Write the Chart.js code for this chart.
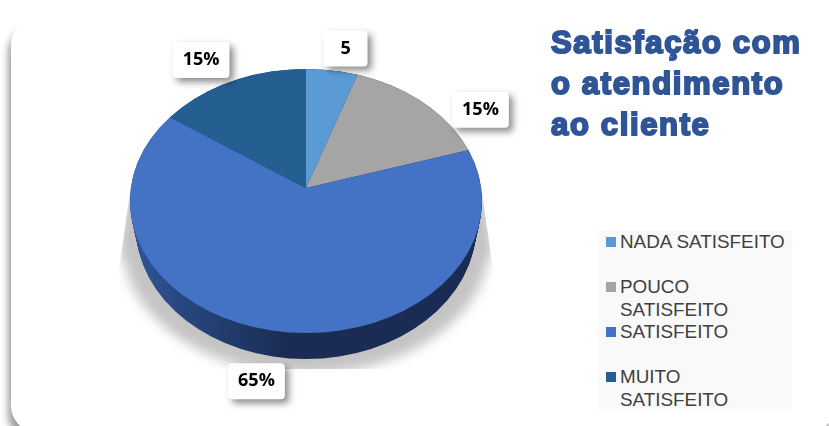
<!DOCTYPE html>
<html lang="pt">
<head>
<meta charset="utf-8">
<title>Satisfação com o atendimento ao cliente</title>
<script src="https://cdn.jsdelivr.net/npm/chart.js@4"></script>
<style>
  html, body { margin: 0; padding: 0; background: #fff; overflow: hidden; }
  #palco { position: relative; width: 829px; height: 426px; overflow: hidden; }
  #cartao {
    position: absolute; left: 11px; top: 18px; width: 824px; height: 414px;
    background: #fff; border-radius: 26px;
    box-shadow: -3px 9px 7px rgba(0, 0, 0, .38);
  }
  #grafico { position: absolute; left: 0; top: 0; }
  #titulo {
    position: absolute; left: 551px; top: 22px; width: 275px;
    font: bold 31px/41px "Liberation Sans", sans-serif;
    color: #2f5597; -webkit-text-stroke: 2px #2f5597; letter-spacing: 1.65px;
  }
  #legenda {
    position: absolute; left: 599px; top: 230px; width: 193px; height: 181px;
    background: #f9f9f9; color: #404040;
    font: 18.85px/22.5px "Liberation Sans", sans-serif;
  }
  .item { position: relative; height: 45px; top: 1px; padding-left: 21px; width: 168px; }
  .item i { position: absolute; left: 7px; top: 6px; width: 10px; height: 10px; }
</style>
</head>
<body>
<div id="palco">
  <div id="cartao"></div>
  <canvas id="grafico" width="829" height="426"></canvas>
  <div id="titulo"></div>
  <div id="legenda"></div>
</div>
<script>
const tituloLinhas = ['Satisfação com', 'o atendimento', 'ao cliente'];
const categorias = ['NADA SATISFEITO', 'POUCO SATISFEITO', 'SATISFEITO', 'MUITO SATISFEITO'];
const valores = [5, 15, 65, 15];
const rotulos = ['5', '15%', '65%', '15%'];
const cores = ['#5b9bd5', '#a5a5a5', '#4472c4', '#255e91'];

// deslocamento de cada etiqueta em relação à borda da fatia
const deslocRotulos = [[12, -22], [50, 6], [-22, 50], [-25, -22]];

// aparência do disco em perspectiva
const DISCO = { rx: 176, ry: 132, descida: 13, altura: 26, estreita: 6, topoX: 200, topoY: 143, baseY: 170 };

document.getElementById('titulo').innerHTML = tituloLinhas.join('<br>');

const legenda = document.getElementById('legenda');
categorias.forEach((nome, i) => {
  const item = document.createElement('div');
  item.className = 'item';
  const marca = document.createElement('i');
  marca.style.background = cores[i];
  item.appendChild(marca);
  item.appendChild(document.createTextNode(nome));
  legenda.appendChild(item);
});

function elipse(ctx, cx, cy, rx) {
  ctx.beginPath();
  ctx.ellipse(cx, cy, rx, DISCO.ry, 0, 0, Math.PI * 2);
}

function desenharSombra(ctx, cx, cy) {
  ctx.save();
  ctx.beginPath();
  ctx.moveTo(cx - 176, cy + 4);
  ctx.lineTo(cx - 187, cy + 82);
  ctx.lineTo(cx - 187, cy + 181);
  ctx.lineTo(cx + 187, cy + 181);
  ctx.lineTo(cx + 187, cy + 82);
  ctx.lineTo(cx + 176, cy + 4);
  ctx.closePath();
  ctx.clip();
  ctx.filter = 'blur(6px)';
  ctx.fillStyle = '#c4c4c4';
  ctx.beginPath();
  ctx.ellipse(cx, cy + 58, 183, 128, 0, 0, Math.PI * 2);
  ctx.fill();
  ctx.beginPath();
  ctx.moveTo(cx - 178, cy);
  ctx.lineTo(cx - 183, cy + 70);
  ctx.lineTo(cx + 183, cy + 70);
  ctx.lineTo(cx + 178, cy);
  ctx.closePath();
  ctx.fill();
  ctx.restore();
}

function desenharLateral(ctx, cx, cy) {
  const grad = ctx.createLinearGradient(cx - DISCO.rx, 0, cx - 20, 0);
  grad.addColorStop(0, '#2f5597');
  grad.addColorStop(1, '#1a2c53');
  ctx.fillStyle = grad;
  for (let d = 0; d <= DISCO.altura; d += 1) {
    elipse(ctx, cx, cy + DISCO.descida + d, DISCO.rx - DISCO.estreita * d / DISCO.altura);
    ctx.fill();
  }
}

// metade de cima e metade de baixo têm escalas verticais diferentes
function desenharFatias(ctx, arcos, cx, cy) {
  const r = arcos[0].outerRadius;
  ctx.save();
  elipse(ctx, cx, cy + DISCO.descida, DISCO.rx);
  ctx.clip();
  [[-400, DISCO.topoY], [0, DISCO.baseY]].forEach(([inicio, escalaY]) => {
    ctx.save();
    ctx.beginPath();
    ctx.rect(0, cy + inicio, 829, 400);
    ctx.clip();
    ctx.translate(cx, cy);
    ctx.scale(DISCO.topoX / r, escalaY / r);
    ctx.translate(-cx, -cy);
    arcos.forEach(a => a.draw(ctx));
    ctx.restore();
  });
  ctx.restore();
}

const pizza3d = {
  id: 'pizza3d',
  beforeDatasetsDraw(chart) {
    const ctx = chart.ctx;
    const arcos = chart.getDatasetMeta(0).data;
    const cx = arcos[0].x;
    const cy = arcos[0].y;
    desenharSombra(ctx, cx, cy);
    desenharLateral(ctx, cx, cy);
    desenharFatias(ctx, arcos, cx, cy);
    return false;
  },
  afterDraw(chart) {
    const ctx = chart.ctx;
    chart.getDatasetMeta(0).data.forEach((arco, i) => {
      const meio = (arco.startAngle + arco.endAngle) / 2 + Math.PI / 2;
      const raioY = Math.cos(meio) > 0 ? 119 : 145;
      const x = arco.x + DISCO.rx * Math.sin(meio) + deslocRotulos[i][0];
      const y = arco.y - raioY * Math.cos(meio) + deslocRotulos[i][1];
      ctx.save();
      ctx.font = 'bold 18px "Open Sans", sans-serif';
      const larg = Math.max(ctx.measureText(rotulos[i]).width + 20, 44);
      ctx.shadowColor = 'rgba(0, 0, 0, .45)';
      ctx.shadowBlur = 7;
      ctx.shadowOffsetX = 4;
      ctx.shadowOffsetY = 4;
      ctx.fillStyle = '#fff';
      ctx.beginPath();
      ctx.roundRect(x - larg / 2, y - 18, larg, 36, 4);
      ctx.fill();
      ctx.restore();
      ctx.save();
      ctx.font = 'bold 18px "Open Sans", sans-serif';
      ctx.fillStyle = '#000';
      ctx.textAlign = 'center';
      ctx.textBaseline = 'middle';
      ctx.fillText(rotulos[i], x, y);
      ctx.restore();
    });
  }
};

new Chart(document.getElementById('grafico'), {
  type: 'pie',
  data: {
    labels: categorias,
    datasets: [{
      data: valores,
      backgroundColor: cores,
      borderWidth: 0
    }]
  },
  options: {
    responsive: false,
    animation: false,
    layout: { padding: { right: 217, bottom: 50 } },
    plugins: {
      legend: { display: false },
      tooltip: { enabled: false }
    }
  },
  plugins: [pizza3d]
});
</script>
</body>
</html>
